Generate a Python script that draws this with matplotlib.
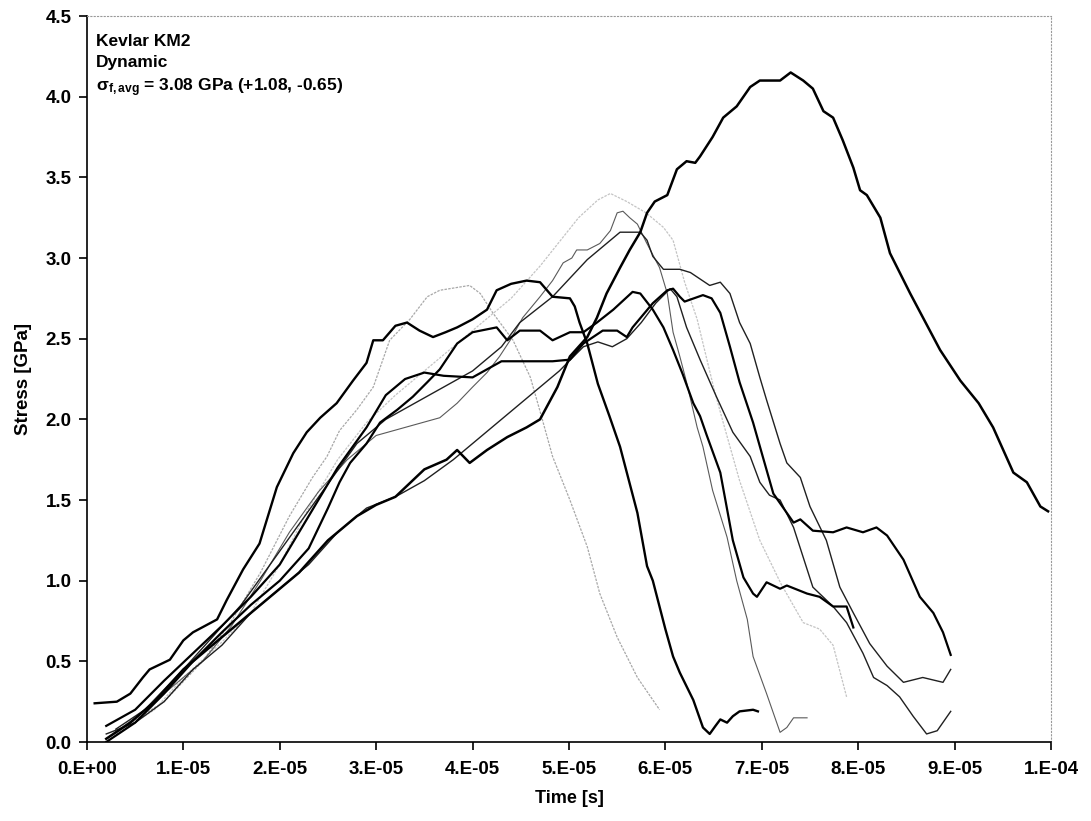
import matplotlib
matplotlib.use("Agg")
import matplotlib.pyplot as plt

plt.rcParams['font.family'] = ['Liberation Sans', 'DejaVu Sans']
plt.rcParams['font.weight'] = 'bold'
plt.rcParams['mathtext.fontset'] = 'custom'
plt.rcParams['mathtext.rm'] = 'Liberation Sans:bold'
plt.rcParams['mathtext.it'] = 'Liberation Sans:bold'
plt.rcParams['mathtext.bf'] = 'Liberation Sans:bold'

# time in units of 1e-5 s, stress in GPa
t_a = [0.2, 0.45, 0.7, 1.0, 1.3, 1.6, 1.9, 2.2, 2.5, 2.8, 3.0, 3.2, 3.5, 3.73, 3.84, 3.97, 4.15, 4.36,
       4.56, 4.7, 4.88, 5.01, 5.19, 5.29, 5.39, 5.53, 5.63, 5.74, 5.81, 5.89, 6.02, 6.12, 6.22, 6.31,
       6.36, 6.49, 6.6, 6.74, 6.88, 6.98, 7.19, 7.3, 7.43, 7.53, 7.64, 7.74, 7.84, 7.95, 8.02, 8.09,
       8.23, 8.33, 8.54, 8.85, 9.06, 9.25, 9.4, 9.61, 9.75, 9.89, 9.97]
s_a = [0.02, 0.12, 0.25, 0.45, 0.6, 0.75, 0.9, 1.05, 1.25, 1.4, 1.47, 1.52, 1.69, 1.75, 1.81, 1.73, 1.81, 1.89,
       1.95, 2.0, 2.2, 2.39, 2.51, 2.63, 2.78, 2.94, 3.05, 3.16, 3.28, 3.35, 3.39, 3.55, 3.6, 3.59,
       3.63, 3.75, 3.87, 3.94, 4.06, 4.1, 4.1, 4.15, 4.1, 4.05, 3.91, 3.87, 3.73, 3.56, 3.42, 3.39,
       3.25, 3.03, 2.78, 2.43, 2.24, 2.1, 1.95, 1.67, 1.61, 1.46, 1.43]

t_e = [0.08, 0.31, 0.45, 0.58, 0.65, 0.86, 1.0, 1.1, 1.35, 1.45, 1.62, 1.79, 1.97, 2.14, 2.28, 2.42, 2.59,
       2.76, 2.9, 2.97, 3.07, 3.2, 3.32, 3.45, 3.59, 3.72, 3.84, 4.0, 4.15, 4.25, 4.4, 4.56, 4.7, 4.83,
       5.01, 5.06, 5.11, 5.19, 5.3, 5.42, 5.53, 5.71, 5.81, 5.87, 6.0, 6.08, 6.15, 6.29, 6.39, 6.46, 6.52,
       6.57, 6.64, 6.7, 6.77, 6.91, 6.96]
s_e = [0.24, 0.25, 0.3, 0.4, 0.45, 0.51, 0.63, 0.68, 0.76, 0.88, 1.07, 1.23, 1.58, 1.79, 1.92, 2.01, 2.1,
       2.24, 2.35, 2.49, 2.49, 2.58, 2.6, 2.55, 2.51, 2.54, 2.57, 2.62, 2.68, 2.8, 2.84, 2.86, 2.85, 2.76,
       2.75, 2.7, 2.6, 2.47, 2.22, 2.02, 1.83, 1.42, 1.09, 1.0, 0.7, 0.53, 0.43, 0.26, 0.09, 0.05, 0.1,
       0.14, 0.12, 0.16, 0.19, 0.2, 0.19]

t_b = [0.2, 0.5, 0.8, 1.1, 1.4, 1.7, 2.0, 2.3, 2.6, 2.9, 3.1, 3.3, 3.5, 3.7, 4.0, 4.3, 4.6, 4.83, 5.01,
       5.15, 5.35, 5.5, 5.6, 5.66, 5.87, 6.02, 6.08, 6.15, 6.2, 6.39, 6.48, 6.57, 6.67, 6.77, 6.91, 7.01,
       7.12, 7.26, 7.33, 7.4, 7.53, 7.74, 7.88, 8.05, 8.19, 8.3, 8.47, 8.64, 8.78, 8.88, 8.96]
s_b = [0.1, 0.2, 0.38, 0.55, 0.72, 0.9, 1.1, 1.4, 1.7, 1.95, 2.15, 2.25, 2.29, 2.27, 2.26, 2.36, 2.36, 2.36, 2.37,
       2.47, 2.55, 2.55, 2.51, 2.57, 2.72, 2.8, 2.81, 2.76, 2.73, 2.77, 2.75, 2.66, 2.45, 2.23, 1.98, 1.77,
       1.54, 1.42, 1.36, 1.38, 1.31, 1.3, 1.33, 1.3, 1.33, 1.28, 1.13, 0.9, 0.8, 0.68, 0.54]

t_g = [0.2, 0.5, 0.8, 1.1, 1.4, 1.7, 2.0, 2.3, 2.5, 2.62, 2.73, 2.9, 3.04, 3.22, 3.38, 3.53, 3.66, 3.84,
       4.0, 4.25, 4.36, 4.49, 4.7, 4.83, 5.01, 5.15, 5.29, 5.46, 5.66, 5.74, 5.87, 5.98, 6.08, 6.18, 6.29,
       6.36, 6.43, 6.57, 6.7, 6.81, 6.91, 6.95, 7.05, 7.19, 7.26, 7.47, 7.6, 7.74, 7.88, 7.95]
s_g = [0.0, 0.12, 0.3, 0.5, 0.68, 0.85, 1.0, 1.2, 1.45, 1.61, 1.73, 1.85, 1.98, 2.06, 2.14, 2.23, 2.31, 2.47,
       2.54, 2.57, 2.49, 2.55, 2.55, 2.49, 2.54, 2.54, 2.6, 2.68, 2.79, 2.78, 2.68, 2.57, 2.43, 2.28, 2.1,
       2.02, 1.9, 1.67, 1.25, 1.02, 0.92, 0.9, 0.99, 0.95, 0.97, 0.92, 0.9, 0.84, 0.84, 0.71]

t_c = [0.3, 0.6, 1.0, 1.3, 1.6, 1.9, 2.2, 2.5, 2.8, 3.1, 3.4, 3.7, 4.0, 4.3, 4.49, 4.83, 5.19, 5.39,
       5.53, 5.74, 5.81, 5.87, 5.98, 6.15, 6.26, 6.46, 6.57, 6.67, 6.77, 6.88, 6.98, 7.05, 7.19, 7.26,
       7.4, 7.5, 7.67, 7.81, 7.95, 8.12, 8.3, 8.47, 8.67, 8.88, 8.96]
s_c = [0.08, 0.2, 0.45, 0.65, 0.85, 1.1, 1.35, 1.6, 1.85, 2.0, 2.1, 2.2, 2.3, 2.45, 2.6, 2.76, 2.99, 3.09,
       3.16, 3.16, 3.11, 3.01, 2.93, 2.93, 2.91, 2.83, 2.85, 2.78, 2.6, 2.47, 2.26, 2.12, 1.85, 1.73,
       1.64, 1.46, 1.25, 0.96, 0.8, 0.61, 0.47, 0.37, 0.4, 0.37, 0.45]

t_d = [0.2, 0.5, 0.8, 1.1, 1.4, 1.7, 2.0, 2.3, 2.6, 2.9, 3.2, 3.5, 3.8, 4.0, 4.3, 4.6, 4.9, 5.15, 5.3,
       5.45, 5.6, 5.75, 5.9, 6.05, 6.12, 6.22, 6.36, 6.53, 6.7, 6.88, 6.98, 7.08, 7.19, 7.33, 7.53, 7.74,
       7.88, 8.05, 8.16, 8.3, 8.43, 8.57, 8.71, 8.82, 8.96]
s_d = [0.05, 0.12, 0.25, 0.45, 0.6, 0.8, 0.95, 1.1, 1.3, 1.45, 1.52, 1.62, 1.75, 1.85, 2.0, 2.15, 2.3, 2.45, 2.48,
       2.45, 2.5, 2.6, 2.72, 2.81, 2.76, 2.57, 2.37, 2.14, 1.92, 1.77, 1.61, 1.53, 1.5, 1.33, 0.96, 0.84,
       0.74, 0.55, 0.4, 0.35, 0.28, 0.16, 0.05, 0.07, 0.19]

t_f = [0.2, 0.5, 0.9, 1.2, 1.5, 1.8, 2.1, 2.4, 2.7, 3.0, 3.3, 3.66, 3.84, 4.0, 4.15, 4.28, 4.39, 4.52,
       4.7, 4.83, 4.94, 5.03, 5.08, 5.19, 5.32, 5.43, 5.5, 5.56, 5.63, 5.71, 5.8, 5.87, 5.94, 6.02, 6.08,
       6.15, 6.22, 6.33, 6.39, 6.49, 6.64, 6.74, 6.85, 6.91, 7.05, 7.19, 7.26, 7.33, 7.47]
s_f = [0.02, 0.15, 0.35, 0.5, 0.72, 1.0, 1.3, 1.55, 1.75, 1.9, 1.95, 2.01, 2.1, 2.2, 2.29, 2.39, 2.49, 2.63,
       2.76, 2.86, 2.97, 3.0, 3.05, 3.05, 3.09, 3.17, 3.28, 3.29, 3.25, 3.21, 3.1, 3.02, 2.94, 2.78, 2.54,
       2.39, 2.23, 1.95, 1.83, 1.56, 1.27, 1.0, 0.76, 0.53, 0.3, 0.06, 0.09, 0.15, 0.15]

t_h = [0.4, 0.8, 1.2, 1.5, 1.8, 2.1, 2.34, 2.49, 2.62, 2.8, 2.97, 3.14, 3.35, 3.53, 3.66, 3.97, 4.08,
       4.21, 4.42, 4.6, 4.7, 4.83, 5.01, 5.19, 5.32, 5.5, 5.71, 5.94]
s_h = [0.1, 0.25, 0.5, 0.75, 1.05, 1.4, 1.64, 1.77, 1.93, 2.06, 2.2, 2.49, 2.62, 2.76, 2.8, 2.83, 2.78,
       2.66, 2.49, 2.26, 2.05, 1.77, 1.5, 1.21, 0.92, 0.65, 0.4, 0.2]

t_i = [0.3, 0.7, 1.0, 1.4, 1.7, 2.0, 2.3, 2.6, 2.9, 3.2, 3.5, 3.8, 4.1, 4.4, 4.7, 4.9, 5.1, 5.3, 5.43,
       5.6, 5.8, 5.98, 6.08, 6.2, 6.33, 6.5, 6.6, 6.77, 6.98, 7.2, 7.43, 7.6, 7.74, 7.88]
s_i = [0.05, 0.2, 0.4, 0.62, 0.8, 1.1, 1.45, 1.75, 1.98, 2.15, 2.3, 2.45, 2.6, 2.75, 2.95, 3.1, 3.25, 3.36, 3.4,
       3.35, 3.28, 3.19, 3.11, 2.85, 2.62, 2.2, 1.98, 1.62, 1.25, 0.98, 0.74, 0.7, 0.6, 0.28]

xtick_vals = [0, 1, 2, 3, 4, 5, 6, 7, 8, 9, 10]
xtick_labels = ['0.E+00', '1.E-05', '2.E-05', '3.E-05', '4.E-05', '5.E-05',
                '6.E-05', '7.E-05', '8.E-05', '9.E-05', '1.E-04']
ytick_vals = [0.0, 0.5, 1.0, 1.5, 2.0, 2.5, 3.0, 3.5, 4.0, 4.5]

fig = plt.figure(figsize=(10.91, 8.21), dpi=100)
ax = fig.add_axes([0.0797, 0.0962, 0.8836, 0.8843])

series = [
    (t_i, s_i, '#c4c4c4', 0.9, (0, (2, 1))),
    (t_h, s_h, '#a8a8a8', 0.9, (0, (2, 1))),
    (t_f, s_f, '#5a5a5a', 0.8, '-'),
    (t_c, s_c, '#202020', 1.0, '-'),
    (t_d, s_d, '#202020', 1.0, '-'),
    (t_b, s_b, '#000000', 1.6, '-'),
    (t_g, s_g, '#000000', 1.6, '-'),
    (t_e, s_e, '#000000', 1.7, '-'),
    (t_a, s_a, '#000000', 1.8, '-'),
]
for t, s, col, lw, ls in series:
    ax.plot([v * 1e-5 for v in t], s, color=col, lw=lw, ls=ls)

ax.set_xlim(0, 1e-4)
ax.set_ylim(0, 4.5)
ax.set_xticks([v * 1e-5 for v in xtick_vals])
ax.set_xticklabels(xtick_labels)
ax.set_yticks(ytick_vals)
ax.set_yticklabels(['%.1f' % v for v in ytick_vals])
ax.tick_params(direction='out', length=6, width=1.2, labelsize=13.5)
ax.tick_params(axis='x', pad=8)
ax.tick_params(axis='y', pad=5)

for side in ['top', 'right']:
    ax.spines[side].set_color('#999999')
    ax.spines[side].set_linestyle((0, (1, 2)))
    ax.spines[side].set_linewidth(0.8)
for side in ['left', 'bottom']:
    ax.spines[side].set_linewidth(1.2)

ax.set_xlabel('Time [s]', fontsize=13, fontweight='bold', labelpad=8)
ax.set_ylabel('Stress [GPa]', fontsize=13.5, fontweight='bold', labelpad=10)

ax.text(0.009, 0.975, 'Kevlar KM2\nDynamic\n\u03c3$_{f,avg}$ = 3.08 GPa (+1.08, -0.65)',
        transform=ax.transAxes, ha='left', va='top', fontsize=12.5, fontweight='bold',
        linespacing=1.45)

fig.savefig('out.png', dpi=100, facecolor='white')
